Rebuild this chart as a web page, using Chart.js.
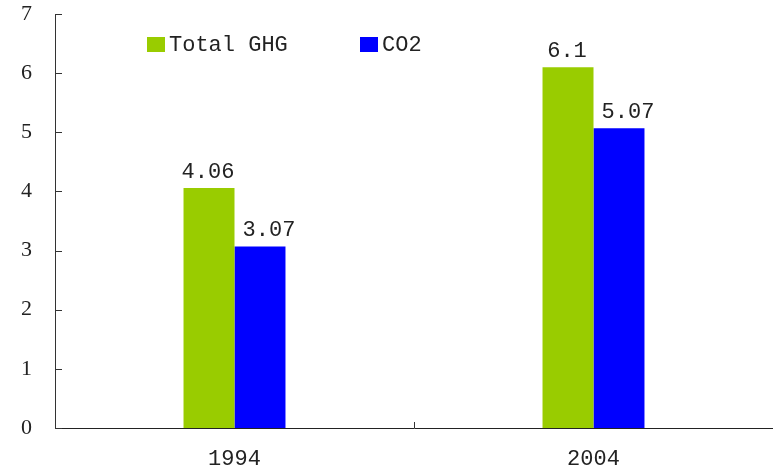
<!DOCTYPE html>
<html><head><meta charset="utf-8">
<script src="https://cdn.jsdelivr.net/npm/chart.js@4/dist/chart.umd.min.js"></script>
<style>html,body{margin:0;padding:0;background:#fff}#wrap{width:773px;height:473px;overflow:hidden}</style>
</head><body><div id="wrap"><canvas id="c" width="773" height="473"></canvas></div>
<script>
const categories = ['1994', '2004'];
const totalGHG = [4.06, 6.1];
const co2 = [3.07, 5.07];
const valueLabels = [['4.06', '6.1'], ['3.07', '5.07']];
const seriesNames = ['Total GHG', 'CO2'];
const yTicks = [0, 1, 2, 3, 4, 5, 6, 7];

const monoFont = '"Liberation Mono", monospace';
const serifFont = '"Liberation Serif", serif';

const extras = {
  id: 'extras',
  afterDatasetsDraw(chart) {
    const ctx = chart.ctx;
    const x = chart.scales.x, y = chart.scales.y;
    const a = chart.chartArea;
    ctx.save();
    ctx.strokeStyle = '#333';
    ctx.lineWidth = 1;
    yTicks.forEach(v => {
      const py = Math.round(y.getPixelForValue(v)) + 0.5;
      ctx.beginPath(); ctx.moveTo(a.left, py); ctx.lineTo(a.left + 7, py); ctx.stroke();
    });
    for (let i = 1; i < categories.length; i++) {
      const px = Math.round((x.getPixelForValue(i - 1) + x.getPixelForValue(i)) / 2) + 0.5;
      ctx.beginPath(); ctx.moveTo(px, a.bottom); ctx.lineTo(px, a.bottom - 6); ctx.stroke();
    }
    ctx.fillStyle = '#222';
    ctx.font = '22px ' + monoFont;
    ctx.textAlign = 'center';
    ctx.textBaseline = 'alphabetic';
    const dx = [-1, 9];
    chart.data.datasets.forEach((ds, di) => {
      const meta = chart.getDatasetMeta(di);
      meta.data.forEach((bar, i) => {
        ctx.fillText(valueLabels[di][i], bar.x + dx[di], bar.y - 10);
      });
    });
    const lx = [147, 360];
    chart.data.datasets.forEach((ds, di) => {
      ctx.fillStyle = ds.backgroundColor;
      ctx.fillRect(lx[di], 37, 18, 15);
      ctx.fillStyle = '#222';
      ctx.textAlign = 'left';
      ctx.textBaseline = 'middle';
      ctx.fillText(ds.label, lx[di] + 22, 45);
    });
    ctx.restore();
  }
};

new Chart(document.getElementById('c'), {
  type: 'bar',
  data: {
    labels: categories,
    datasets: [
      { label: seriesNames[0], data: totalGHG, backgroundColor: '#99CC00' },
      { label: seriesNames[1], data: co2, backgroundColor: '#0000FF' }
    ]
  },
  options: {
    responsive: false,
    animation: false,
    devicePixelRatio: 1,
    layout: { padding: { top: 14, right: -6, left: 0, bottom: 0 } },
    plugins: { legend: { display: false }, tooltip: { enabled: false } },
    datasets: { bar: { barPercentage: 1, categoryPercentage: 0.284 } },
    scales: {
      x: {
        grid: { display: false, drawTicks: false },
        border: { display: true, color: '#222', width: 1 },
        ticks: { color: '#222', font: { family: monoFont, size: 22 }, padding: 18 },
        afterFit(s) { s.height = 45; s.paddingLeft = 0; s.paddingRight = 0; }
      },
      y: {
        min: 0, max: 7,
        grid: { display: false, drawTicks: false },
        border: { display: true, color: '#333', width: 1 },
        ticks: { stepSize: 1, color: '#222', font: { family: serifFont, size: 22 }, padding: 23,
                 callback: (v) => yTicks.includes(v) ? String(v) : '' },
        afterFit(s) { s.width = 55; s.paddingTop = 0; s.paddingBottom = 0; }
      }
    }
  },
  plugins: [extras]
});
</script></body></html>
